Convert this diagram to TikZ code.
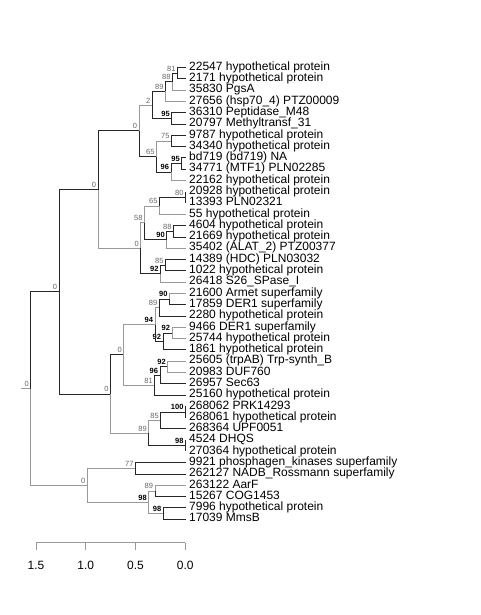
\documentclass[tikz,border=0pt]{standalone}
\usepackage{fontspec}
\setmainfont{Liberation Sans}
\begin{document}
\begin{tikzpicture}[
	x=1pt, y=-1pt,
	tip/.style = {anchor=west, inner xsep=3.5pt, inner ysep=0pt, text height=7.6pt, text depth=2pt, font=\fontsize{12}{12}\selectfont},
	bs/.style = {font=\fontsize{7.5}{8}\selectfont, inner sep=1.8pt, text=black!60},
	bb/.style = {font=\fontsize{7.5}{8}\selectfont\bfseries, inner sep=1.8pt},
	ax/.style = {font=\fontsize{12}{12}\selectfont},
	k/.style = {draw=black!85, line width=.8pt},
	g/.style = {draw=black!40, line width=.8pt}
	]
	\useasboundingbox (0,0) rectangle (480,615);

	%Leaves
	\node[tip]	(p22547)	at	(185.5, 67.5)	{22547 hypothetical protein};
	\node[tip]	(p2171)		at	(185.5, 78.8)	{2171 hypothetical protein};
	\node[tip]	(p35830)	at	(185.5, 90.1)	{35830 PgsA};
	\node[tip]	(p27656)	at	(185.5, 101.4)	{27656 (hsp70\_4) PTZ00009};
	\node[tip]	(p36310)	at	(185.5, 112.7)	{36310 Peptidase\_M48};
	\node[tip]	(p20797)	at	(185.5, 124.0)	{20797 Methyltransf\_31};
	\node[tip]	(p9787)		at	(185.5, 135.2)	{9787 hypothetical protein};
	\node[tip]	(p34340)	at	(185.5, 146.5)	{34340 hypothetical protein};
	\node[tip]	(pbd719)	at	(185.5, 157.8)	{bd719 (bd719) NA};
	\node[tip]	(p34771)	at	(185.5, 169.1)	{34771 (MTF1) PLN02285};
	\node[tip]	(p22162)	at	(185.5, 180.4)	{22162 hypothetical protein};
	\node[tip]	(p20928)	at	(185.5, 191.7)	{20928 hypothetical protein};
	\node[tip]	(p13393)	at	(185.5, 203.0)	{13393 PLN02321};
	\node[tip]	(p55)		at	(185.5, 214.3)	{55 hypothetical protein};
	\node[tip]	(p4604)		at	(185.5, 225.6)	{4604 hypothetical protein};
	\node[tip]	(p21669)	at	(185.5, 236.9)	{21669 hypothetical protein};
	\node[tip]	(p35402)	at	(185.5, 248.1)	{35402 (ALAT\_2) PTZ00377};
	\node[tip]	(p14389)	at	(185.5, 259.4)	{14389 (HDC) PLN03032};
	\node[tip]	(p1022)		at	(185.5, 270.7)	{1022 hypothetical protein};
	\node[tip]	(p26418)	at	(185.5, 282.0)	{26418 S26\_SPase\_I};
	\node[tip]	(p21600)	at	(185.5, 293.3)	{21600 Armet superfamily};
	\node[tip]	(p17859)	at	(185.5, 304.6)	{17859 DER1 superfamily};
	\node[tip]	(p2280)		at	(185.5, 315.9)	{2280 hypothetical protein};
	\node[tip]	(p9466)		at	(185.5, 327.2)	{9466 DER1 superfamily};
	\node[tip]	(p25744)	at	(185.5, 338.5)	{25744 hypothetical protein};
	\node[tip]	(p1861)		at	(185.5, 349.8)	{1861 hypothetical protein};
	\node[tip]	(p25605)	at	(185.5, 361.0)	{25605 (trpAB) Trp-synth\_B};
	\node[tip]	(p20983)	at	(185.5, 372.3)	{20983 DUF760};
	\node[tip]	(p26957)	at	(185.5, 383.6)	{26957 Sec63};
	\node[tip]	(p25160)	at	(185.5, 394.9)	{25160 hypothetical protein};
	\node[tip]	(p268062)	at	(185.5, 406.2)	{268062 PRK14293};
	\node[tip]	(p268061)	at	(185.5, 417.5)	{268061 hypothetical protein};
	\node[tip]	(p268364)	at	(185.5, 428.8)	{268364 UPF0051};
	\node[tip]	(p4524)		at	(185.5, 440.1)	{4524 DHQS};
	\node[tip]	(p270364)	at	(185.5, 451.4)	{270364 hypothetical protein};
	\node[tip]	(p9921)		at	(185.5, 462.7)	{9921 phosphagen\_kinases superfamily};
	\node[tip]	(p262127)	at	(185.5, 473.9)	{262127 NADB\_Rossmann superfamily};
	\node[tip]	(p263122)	at	(185.5, 485.2)	{263122 AarF};
	\node[tip]	(p15267)	at	(185.5, 496.5)	{15267 COG1453};
	\node[tip]	(p7996)		at	(185.5, 507.8)	{7996 hypothetical protein};
	\node[tip]	(p17039)	at	(185.5, 519.1)	{17039 MmsB};

	%Inner nodes
	\coordinate				(stub)	at	(20.7, 388.6);
	\coordinate[label={[bs]above left:0}]	(root)	at	(30.7, 388.6);
	\coordinate[label={[bs]above left:0}]	(nA)	at	(59, 291.8);
	\coordinate[label={[bs]above left:0}]	(nB)	at	(98, 189.5);
	\coordinate[label={[bs]above left:0}]	(nC)	at	(139, 130.8);
	\coordinate[label={[bs]above left:2}]	(nD)	at	(152.3, 105.0);
	\coordinate[label={[bs]above left:89}]	(nE)	at	(165.5, 91.5);
	\coordinate[label={[bs]above left:88}]	(nF)	at	(172.5, 81.6);
	\coordinate[label={[bs]above left:81}]	(nG)	at	(177.5, 73.15);
	\coordinate[label={[bb]above left:95}]	(nH)	at	(171.7, 118.4);
	\coordinate[label={[bs]above left:65}]	(nI)	at	(156.5, 156.5);
	\coordinate[label={[bs]above left:75}]	(nJ)	at	(171.5, 140.9);
	\coordinate[label={[bb]above left:96}]	(nK)	at	(171, 172.0);
	\coordinate[label={[bb]above left:95}]	(nL)	at	(181.7, 163.5);
	\coordinate[label={[bs]above left:0}]	(nM)	at	(140.7, 248.2);
	\coordinate[label={[bs]above left:58}]	(nN)	at	(144.5, 222.8);
	\coordinate[label={[bs]above left:65}]	(nO)	at	(159.5, 205.9);
	\coordinate[label={[bs]above left:80}]	(nP)	at	(185.5, 197.4);
	\coordinate[label={[bb]above left:90}]	(nQ)	at	(166.7, 239.7);
	\coordinate[label={[bs]above left:88}]	(nR)	at	(173.5, 231.3);
	\coordinate[label={[bb]above left:92}]	(nS)	at	(160.5, 273.6);
	\coordinate[label={[bs]above left:85}]	(nT)	at	(165.5, 265.1);
	\coordinate[label={[bs]above left:0}]	(nU)	at	(110.5, 394.0);
	\coordinate[label={[bs]above left:0}]	(nV)	at	(123.8, 354.8);
	\coordinate[label={[bb]above left:94}]	(nW)	at	(155, 324.5);
	\coordinate[label={[bs]above left:89}]	(nX)	at	(159.3, 307.5);
	\coordinate[label={[bb]above left:90}]	(nY)	at	(169.5, 299.0);
	\coordinate[label={[bb]above left:92}]	(nZ)	at	(163, 341.4);
	\coordinate[label={[bb]above left:92}]	(nAA)	at	(172, 332.9);
	\coordinate[label={[bs]above left:81}]	(nAB)	at	(154.7, 385.1);
	\coordinate[label={[bb]above left:96}]	(nAC)	at	(160, 375.2);
	\coordinate[label={[bb]above left:92}]	(nAD)	at	(167.8, 366.7);
	\coordinate[label={[bs]above left:89}]	(nAE)	at	(148.7, 433.1);
	\coordinate[label={[bs]above left:85}]	(nAF)	at	(160.7, 420.4);
	\coordinate[label={[bb]above left:100}]	(nAG)	at	(185.5, 411.9);
	\coordinate[label={[bb]above left:98}]	(nAH)	at	(185.5, 445.8);
	\coordinate[label={[bs]above left:0}]	(nAI)	at	(87.3, 485.3);
	\coordinate[label={[bs]above left:77}]	(nAJ)	at	(135.5, 468.3);
	\coordinate[label={[bb]above left:98}]	(nAK)	at	(148.7, 502.2);
	\coordinate[label={[bs]above left:89}]	(nAL)	at	(155, 490.9);
	\coordinate[label={[bb]above left:98}]	(nAM)	at	(163.3, 513.5);

	%Branches
	\draw[g]	(stub) -- (root);
	\draw[k]	(root) |- (nA);
	\draw[g]	(root) |- (nAI);
	\draw[k]	(nA) |- (nB);
	\draw[k]	(nA) |- (nU);
	\draw[k]	(nB) |- (nC);
	\draw[g]	(nB) |- (nM);
	\draw[g]	(nC) |- (nD);
	\draw[k]	(nC) |- (nI);
	\draw[k]	(nD) |- (nE);
	\draw[k]	(nD) |- (nH);
	\draw[k]	(nE) |- (nF);
	\draw[g]	(nE) |- (p27656.west);
	\draw[k]	(nF) |- (nG);
	\draw[g]	(nF) |- (p35830.west);
	\draw[k]	(nG) |- (p22547.west);
	\draw[k]	(nG) |- (p2171.west);
	\draw[k]	(nH) |- (p36310.west);
	\draw[k]	(nH) |- (p20797.west);
	\draw[g]	(nI) |- (nJ);
	\draw[k]	(nI) |- (nK);
	\draw[k]	(nJ) |- (p9787.west);
	\draw[k]	(nJ) |- (p34340.west);
	\draw[k]	(nK) |- (nL);
	\draw[g]	(nK) |- (p22162.west);
	\draw[k]	(nL) |- (pbd719.west);
	\draw[k]	(nL) |- (p34771.west);
	\draw[g]	(nM) |- (nN);
	\draw[k]	(nM) |- (nS);
	\draw[g]	(nN) |- (nO);
	\draw[k]	(nN) |- (nQ);
	\draw[k]	(nO) |- (nP);
	\draw[g]	(nO) |- (p55.west);
	\draw[k]	(nP) |- (p20928.west);
	\draw[k]	(nP) |- (p13393.west);
	\draw[k]	(nQ) |- (nR);
	\draw[g]	(nQ) |- (p35402.west);
	\draw[k]	(nR) |- (p4604.west);
	\draw[k]	(nR) |- (p21669.west);
	\draw[k]	(nS) |- (nT);
	\draw[g]	(nS) |- (p26418.west);
	\draw[k]	(nT) |- (p14389.west);
	\draw[k]	(nT) |- (p1022.west);
	\draw[k]	(nU) |- (nV);
	\draw[g]	(nU) |- (nAE);
	\draw[g]	(nV) |- (nW);
	\draw[g]	(nV) |- (nAB);
	\draw[g]	(nW) |- (nX);
	\draw[k]	(nW) |- (nZ);
	\draw[k]	(nX) |- (nY);
	\draw[k]	(nX) |- (p2280.west);
	\draw[g]	(nY) |- (p21600.west);
	\draw[k]	(nY) |- (p17859.west);
	\draw[k]	(nZ) |- (nAA);
	\draw[k]	(nZ) |- (p1861.west);
	\draw[g]	(nAA) |- (p9466.west);
	\draw[g]	(nAA) |- (p25744.west);
	\draw[k]	(nAB) |- (nAC);
	\draw[k]	(nAB) |- (p25160.west);
	\draw[k]	(nAC) |- (nAD);
	\draw[k]	(nAC) |- (p26957.west);
	\draw[g]	(nAD) |- (p25605.west);
	\draw[g]	(nAD) |- (p20983.west);
	\draw[g]	(nAE) |- (nAF);
	\draw[k]	(nAE) |- (nAH);
	\draw[k]	(nAF) |- (nAG);
	\draw[k]	(nAF) |- (p268364.west);
	\draw[k]	(nAG) |- (p268062.west);
	\draw[k]	(nAG) |- (p268061.west);
	\draw[k]	(nAH) |- (p4524.west);
	\draw[k]	(nAH) |- (p270364.west);
	\draw[g]	(nAI) |- (nAJ);
	\draw[g]	(nAI) |- (nAK);
	\draw[k]	(nAJ) |- (p9921.west);
	\draw[k]	(nAJ) |- (p262127.west);
	\draw[g]	(nAK) |- (nAL);
	\draw[g]	(nAK) |- (nAM);
	\draw[g]	(nAL) |- (p263122.west);
	\draw[k]	(nAL) |- (p15267.west);
	\draw[k]	(nAM) |- (p7996.west);
	\draw[k]	(nAM) |- (p17039.west);

	%Scale
	\coordinate	(s15)	at	(36, 542.7);
	\coordinate	(s10)	at	(85.8, 542.7);
	\coordinate	(s05)	at	(135.5, 542.7);
	\coordinate	(s00)	at	(185.3, 542.7);
	\draw[g]	(s15) -- (s00);
	\foreach \t in {s15, s10, s05, s00}
		\draw[g]	(\t) -- ++(0, 7.3);
	\node[ax]	(a15)	at	(36, 565.5)	{1.5};
	\node[ax]	(a10)	at	(85.8, 565.5)	{1.0};
	\node[ax]	(a05)	at	(135.5, 565.5)	{0.5};
	\node[ax]	(a00)	at	(185.3, 565.5)	{0.0};
\end{tikzpicture}
\end{document}
